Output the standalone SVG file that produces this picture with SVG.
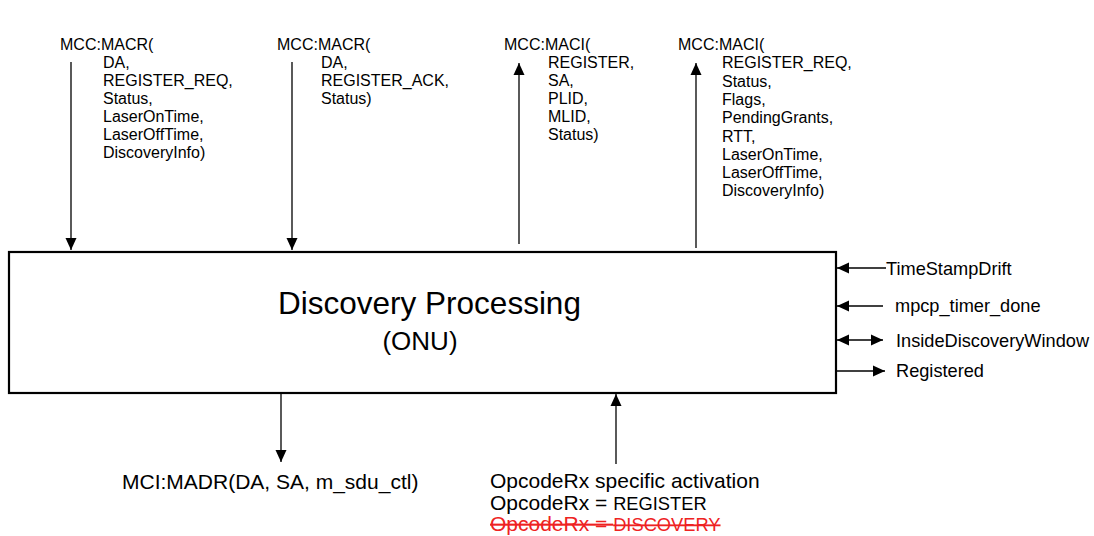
<svg xmlns="http://www.w3.org/2000/svg" width="1094" height="536" viewBox="0 0 1094 536">
<defs>
<style>
text{font-family:"Liberation Sans",Arial,Helvetica,sans-serif;fill:#000}
.s{font-size:16px}
.r{font-size:18.2px}
.m{font-size:21px}
.sm{font-size:18.3px}
.c{stroke:#000;stroke-width:1.3;fill:none}
.box{fill:#fff;stroke:#000;stroke-width:2.2}
.red{fill:#ee2222}
</style>
<marker id="ah" markerUnits="userSpaceOnUse" markerWidth="12" markerHeight="12" refX="12" refY="6" orient="auto-start-reverse" viewBox="0 0 12 12">
<path d="M0,0.5 L12,6 L0,11.5 z" fill="#000"/>
</marker>
</defs>

<g id="discovery-processing">
<rect class="box" x="9" y="252" width="827" height="141"/>
<text x="429.5" y="314" text-anchor="middle" style="font-size:31.5px">Discovery Processing</text>
<text x="420" y="350" text-anchor="middle" style="font-size:26px">(ONU)</text>
</g>

<g id="macr-register-req">
<text class="s" x="60" y="50">MCC:MACR(</text>
<text class="s" x="103" y="68">DA,</text>
<text class="s" x="103" y="86">REGISTER_REQ,</text>
<text class="s" x="103" y="104">Status,</text>
<text class="s" x="103" y="122">LaserOnTime,</text>
<text class="s" x="103" y="140">LaserOffTime,</text>
<text class="s" x="103" y="158">DiscoveryInfo)</text>
</g>

<g id="macr-register-ack">
<text class="s" x="277" y="50">MCC:MACR(</text>
<text class="s" x="321" y="68">DA,</text>
<text class="s" x="321" y="86">REGISTER_ACK,</text>
<text class="s" x="321" y="104">Status)</text>
</g>

<g id="maci-register">
<text class="s" x="504" y="50">MCC:MACI(</text>
<text class="s" x="548" y="68">REGISTER,</text>
<text class="s" x="548" y="86">SA,</text>
<text class="s" x="548" y="104">PLID,</text>
<text class="s" x="548" y="122">MLID,</text>
<text class="s" x="548" y="140">Status)</text>
</g>

<g id="maci-register-req">
<text class="s" x="678" y="50">MCC:MACI(</text>
<text class="s" x="722" y="68.3">REGISTER_REQ,</text>
<text class="s" x="722" y="86.6">Status,</text>
<text class="s" x="722" y="104.9">Flags,</text>
<text class="s" x="722" y="123.2">PendingGrants,</text>
<text class="s" x="722" y="141.5">RTT,</text>
<text class="s" x="722" y="159.8">LaserOnTime,</text>
<text class="s" x="722" y="178.1">LaserOffTime,</text>
<text class="s" x="722" y="196.4">DiscoveryInfo)</text>
</g>

<g id="side-signals">
<text class="r" x="886" y="275">TimeStampDrift</text>
<text class="r" x="895" y="312">mpcp_timer_done</text>
<text class="r" x="896" y="346.5">InsideDiscoveryWindow</text>
<text class="r" x="896" y="376.5">Registered</text>
</g>

<g id="madr">
<text class="m" x="122" y="489">MCI:MADR(DA, SA, m_sdu_ctl)</text>
</g>

<g id="opcode">
<text class="m" x="490" y="488">OpcodeRx specific activation</text>
<text class="m" x="490" y="509.5">OpcodeRx = <tspan class="sm">REGISTER</tspan></text>
<text class="m red" x="490" y="531" text-decoration="line-through">OpcodeRx = <tspan class="sm">DISCOVERY</tspan></text>
</g>

<g id="connectors">
<line class="c" x1="71" y1="62" x2="71" y2="250" marker-end="url(#ah)"/>
<line class="c" x1="292" y1="62" x2="292" y2="250" marker-end="url(#ah)"/>
<line class="c" x1="519" y1="244" x2="519" y2="63" marker-end="url(#ah)"/>
<line class="c" x1="696" y1="248" x2="696" y2="63" marker-end="url(#ah)"/>
<line class="c" x1="886" y1="268" x2="837" y2="268" marker-end="url(#ah)"/>
<line class="c" x1="883" y1="306" x2="837" y2="306" marker-end="url(#ah)"/>
<line class="c" x1="837" y1="340" x2="883" y2="340" marker-start="url(#ah)" marker-end="url(#ah)"/>
<line class="c" x1="837" y1="371" x2="885" y2="371" marker-end="url(#ah)"/>
<line class="c" x1="281" y1="394" x2="281" y2="462" marker-end="url(#ah)"/>
<line class="c" x1="616" y1="464" x2="616" y2="394" marker-end="url(#ah)"/>
</g>
</svg>
